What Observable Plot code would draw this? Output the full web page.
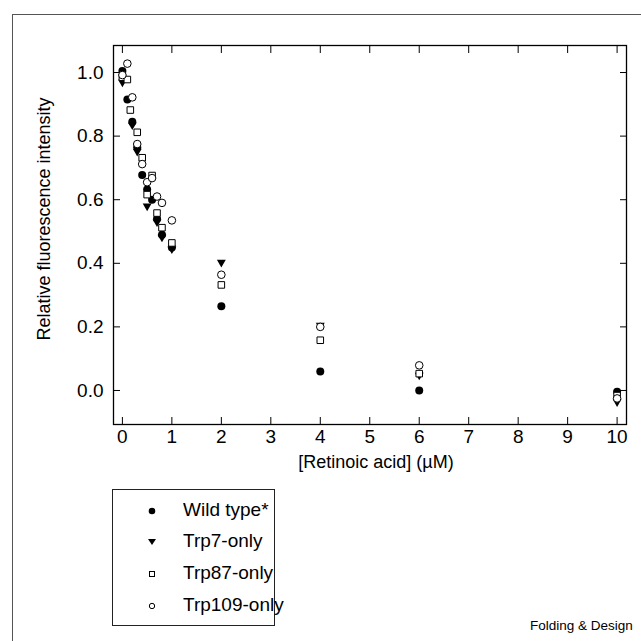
<!DOCTYPE html>
<html><head><meta charset="utf-8">
<script src="https://cdn.jsdelivr.net/npm/d3@7"></script>
<script src="https://cdn.jsdelivr.net/npm/@observablehq/plot@0.6"></script>
<style>
html,body{margin:0;padding:0;background:#fff;overflow:hidden;width:641px;height:641px;font-family:"Liberation Sans",Arial,sans-serif;}
#outer{position:absolute;left:12px;top:14px;width:800px;height:800px;border:1px solid #555;box-sizing:border-box;}
#chart{position:absolute;left:0;top:0;}
#legend{position:absolute;left:112px;top:489px;width:163px;height:137px;border:1px solid #222;box-sizing:border-box;font-size:19px;}
.row{position:absolute;left:0;width:160px;height:30px;}
.row svg{position:absolute;left:32px;top:8px;}
.row span{position:absolute;left:70px;top:3px;white-space:nowrap;}
#caption{position:absolute;left:530px;top:618px;font-size:13.5px;white-space:nowrap;}
</style></head>
<body>
<div id="outer"></div>
<div id="chart"></div>
<div id="legend"></div>
<div id="caption">Folding &amp; Design</div>
<script>
// Data
const xTicks = [0, 1, 2, 3, 4, 5, 6, 7, 8, 9, 10];
const yTicks = [0, 0.2, 0.4, 0.6, 0.8, 1.0];
const seriesNames = ["Wild type*", "Trp7-only", "Trp87-only", "Trp109-only"];

const wtX = [0, 0.1, 0.2, 0.3, 0.4, 0.5, 0.6, 0.7, 0.8, 1, 2, 4, 6, 10];
const wtY = [1.005, 0.915, 0.845, 0.765, 0.678, 0.632, 0.600, 0.540, 0.490, 0.450, 0.265, 0.060, 0.000, -0.004];

const t7X = [0, 0.2, 0.3, 0.5, 0.7, 0.8, 1, 2, 4, 6, 10];
const t7Y = [0.970, 0.835, 0.752, 0.580, 0.530, 0.482, 0.445, 0.403, 0.205, 0.048, -0.036];

const t87X = [0, 0.1, 0.16, 0.3, 0.4, 0.5, 0.6, 0.7, 0.8, 1, 2, 4, 6, 10];
const t87Y = [0.985, 0.978, 0.882, 0.812, 0.732, 0.616, 0.676, 0.558, 0.512, 0.464, 0.332, 0.158, 0.053, -0.016];

const t109X = [0, 0.1, 0.2, 0.3, 0.4, 0.5, 0.6, 0.7, 0.8, 1, 2, 4, 6, 10];
const t109Y = [0.992, 1.028, 0.922, 0.775, 0.712, 0.655, 0.668, 0.610, 0.590, 0.535, 0.364, 0.200, 0.079, -0.025];

const toRows = (xs, ys) => xs.map((x, i) => ({x, y: ys[i]}));
const wt = toRows(wtX, wtY), t7 = toRows(t7X, t7Y), t87 = toRows(t87X, t87Y), t109 = toRows(t109X, t109Y);

const font = "Liberation Sans, Arial, sans-serif";
const chart = Plot.plot({
  width: 641, height: 470,
  marginLeft: 113, marginRight: 15, marginTop: 45, marginBottom: 46,
  style: {fontFamily: font, fontSize: "19px", background: "transparent", color: "#000", overflow: "visible"},
  x: {domain: [-0.18, 10.19]},
  y: {domain: [-0.107, 1.085]},
  marks: [
    Plot.frame({stroke: "#000", strokeWidth: 1.3}),
    Plot.axisX(xTicks, {anchor: "bottom", tickSize: -7, tickPadding: 12, tickFormat: d => String(d), label: null, fontSize: 19}),
    Plot.axisX(xTicks, {anchor: "top", tickSize: -7, tickFormat: () => "", label: null}),
    Plot.axisY(yTicks, {anchor: "left", tickSize: -7, tickPadding: 17, tickFormat: d3.format(".1f"), label: null, fontSize: 19}),
    Plot.axisY(yTicks, {anchor: "right", tickSize: -7, tickFormat: () => "", label: null}),
    Plot.text(["[Retinoic acid] (\u00B5M)"], {frameAnchor: "bottom", dy: 43, dx: 6, fontSize: 18}),
    Plot.text(["Relative fluorescence intensity"], {frameAnchor: "left", textAnchor: "middle", rotate: -90, dx: -69, dy: -16, fontSize: 18}),
    Plot.dot(t7, {x: "x", y: "y", symbol: "triangle", r: 3.3, fill: "#000", stroke: "none", rotate: 180}),
    Plot.dot(wt, {x: "x", y: "y", symbol: "circle", r: 4, fill: "#000", stroke: "none"}),
    Plot.dot(t87, {x: "x", y: "y", symbol: "square", r: 3.7, fill: "#fff", stroke: "#000", strokeWidth: 1}),
    Plot.dot(t109, {x: "x", y: "y", symbol: "circle", r: 3.8, fill: "#fff", stroke: "#000", strokeWidth: 1})
  ]
});
document.getElementById("chart").appendChild(chart);

// Legend
const glyphs = [
  '<circle cx="7" cy="7" r="3.3" fill="#000"/>',
  '<path d="M3,4 L11,4 L7,10 Z" fill="#000"/>',
  '<rect x="4.5" y="4.5" width="5" height="5" fill="#fff" stroke="#000" stroke-width="1"/>',
  '<circle cx="7" cy="7" r="2.7" fill="#fff" stroke="#000" stroke-width="1"/>'
];
const tops = [6, 37, 69, 101];
const legend = document.getElementById("legend");
seriesNames.forEach((name, i) => {
  const row = document.createElement("div");
  row.className = "row";
  row.style.top = tops[i] + "px";
  row.innerHTML = `<svg width="14" height="14">${glyphs[i]}</svg><span>${name}</span>`;
  legend.appendChild(row);
});
</script>
</body></html>
